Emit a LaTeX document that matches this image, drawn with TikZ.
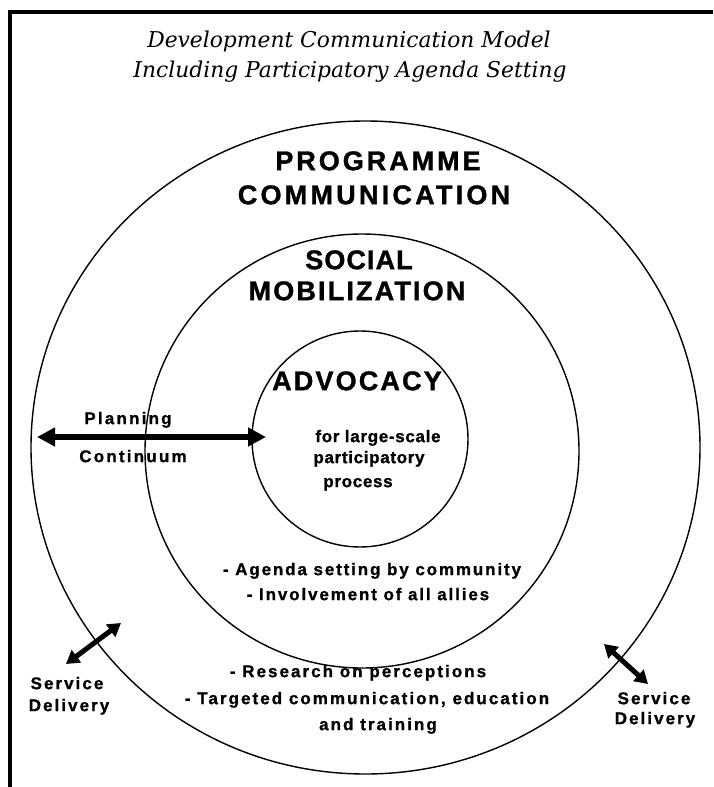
\documentclass[tikz,border=0pt]{standalone}
\usepackage{fontspec}
\usetikzlibrary{arrows.meta,shapes.geometric}
\newfontfamily\sansbold{Liberation Sans}
\newfontfamily\titlefont{DejaVu Serif}

\begin{document}
\begin{tikzpicture}[x=1pt,y=-1pt,
  ring/.style={draw, line width=1.4pt, inner sep=0pt, outer sep=0pt},
  framerule/.style={line width=3.2pt},
  heading/.style={inner sep=0pt, anchor=mid,
    font=\titlefont\itshape\fontsize{21.8}{25}\selectfont},
  bigcaps/.style={inner sep=0pt, anchor=mid,
    font=\sansbold\bfseries\fontsize{27}{30}\selectfont\addfontfeature{LetterSpace=#1,FakeBold=1.2}},
  label/.style={inner sep=0pt, anchor=mid,
    font=\sansbold\bfseries\fontsize{17}{20}\selectfont\addfontfeature{LetterSpace=#1,FakeBold=1}},
  bigarrow/.style={line width=5.5pt, {Triangle[length=18pt,width=18pt]}-{Triangle[length=18pt,width=18pt]}},
  smallarrow/.style={line width=5pt, {Triangle[length=13pt,width=15pt]}-{Triangle[length=13pt,width=15pt]}}
]
\useasboundingbox (0,0) rectangle (713,787);
\fill[white] (0,0) rectangle (713,787);

% frame (top and left rules)
\coordinate (frame-bl) at (10,787);
\coordinate (frame-tl) at (10,12);
\coordinate (frame-tr) at (713,12);
\draw[framerule] (frame-bl) -- (frame-tl) -- (frame-tr);

% title
\node[heading] (title1) at (349,45) {Development Communication Model};
\node[heading] (title2) at (350,75) {Including Participatory Agenda Setting};

% the three nested rings
\node[ring, ellipse, minimum width=669pt, minimum height=653pt] (programme) at (365.5,447.5) {};
\node[ring, circle, minimum size=434pt] (mobilization) at (362,451) {};
\node[ring, circle, minimum size=216pt] (advocacy) at (360,439) {};

% ring headings
\node[bigcaps=11] (prog1) at (378,168) {PROGRAMME};
\node[bigcaps=12] (prog2) at (374,202) {COMMUNICATION};
\node[bigcaps=4] (soc1) at (359,267) {SOCIAL};
\node[bigcaps=8] (soc2) at (357,298) {MOBILIZATION};
\node[bigcaps=8] (adv1) at (357,388) {ADVOCACY};

% advocacy detail
\node[label=4] (adv2) at (378,440) {for large-scale};
\node[label=4] (adv3) at (369,461) {participatory};
\node[label=4] (adv4) at (358,485) {process};

% social mobilization detail
\node[label=11] (mob1) at (372,573) {- Agenda setting by community};
\node[label=11] (mob2) at (368,598) {- Involvement of all allies};

% programme communication detail
\node[label=12] (prg1) at (358,675) {- Research on perceptions};
\node[label=12] (prg2) at (367,702) {- Targeted communication, education};
\node[label=12] (prg3) at (378,728) {and training};

% planning continuum
\coordinate (pc-left) at (37,437);
\coordinate (pc-right) at (266,437);
\draw[bigarrow] (pc-left) -- (pc-right);
\node[label=13] (plan1) at (128,422) {Planning};
\node[label=13] (plan2) at (133,460) {Continuum};

% service delivery, left
\coordinate (sdl-out) at (66,664);
\coordinate (sdl-in) at (121,623);
\draw[smallarrow] (sdl-out) -- (sdl-in);
\node[label=12] (sdl1) at (67,687) {Service};
\node[label=12] (sdl2) at (69,709) {Delivery};

% service delivery, right
\coordinate (sdr-in) at (604,644);
\coordinate (sdr-out) at (648,684);
\draw[smallarrow] (sdr-in) -- (sdr-out);
\node[label=12] (sdr1) at (654,702) {Service};
\node[label=12] (sdr2) at (655,722) {Delivery};
\end{tikzpicture}
\end{document}
